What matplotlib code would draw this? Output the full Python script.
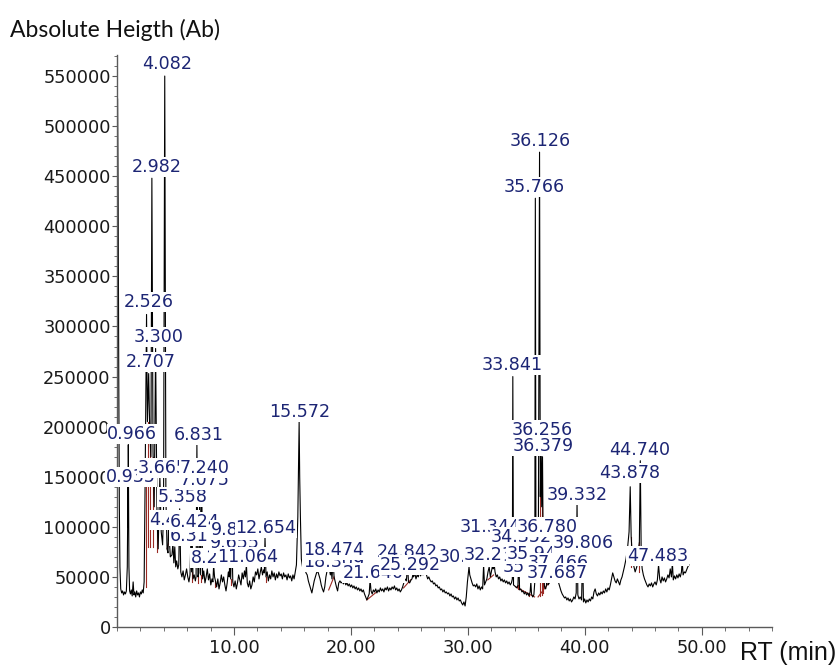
import numpy as np
import matplotlib
matplotlib.use("Agg")
import matplotlib.pyplot as plt
from matplotlib.ticker import FixedLocator, FuncFormatter

# ---------------------------------------------------------------------------
# Total ion chromatogram: baseline samples (retention time in min,
# abundance in thousands of counts)
# ---------------------------------------------------------------------------
base_rt = [
    0.05, 0.10, 0.15, 0.20, 0.25, 0.32, 0.40, 0.48, 0.56, 0.64, 0.72, 0.80, 0.88, 0.95,
    1.02, 1.08, 1.15, 1.22, 1.30, 1.38, 1.45, 1.52, 1.60, 1.68, 1.76, 1.84, 1.92, 2.00,
    2.08, 2.16, 2.24, 2.32, 2.40, 2.60, 2.80, 2.90, 3.08, 3.18, 3.42, 3.52, 3.78, 3.90,
    3.98, 4.18, 4.28, 4.36, 4.48, 4.56, 4.70, 4.78, 4.86, 4.94, 5.02, 5.10, 5.20, 5.28,
    5.45, 5.55, 5.65, 5.75, 5.85, 5.95, 6.05, 6.15, 6.24, 6.38, 6.50, 6.60, 6.70, 6.76,
    6.92, 7.00, 7.15, 7.32, 7.42, 7.52, 7.62, 7.72, 7.82, 7.92, 8.02, 8.12, 8.20, 8.34,
    8.42, 8.52, 8.62, 8.72, 8.82, 8.92, 9.02, 9.12, 9.22, 9.32, 9.42, 9.52, 9.60, 9.72,
    9.90, 10.00, 10.10, 10.20, 10.30, 10.40, 10.50, 10.60, 10.70, 10.80, 10.90, 10.98,
    11.14, 11.24, 11.34, 11.44, 11.54, 11.64, 11.74, 11.84, 11.94, 12.04, 12.14, 12.24,
    12.34, 12.44, 12.54, 12.60, 12.74, 12.84, 12.94, 13.04, 13.14, 13.24, 13.34, 13.44,
    13.54, 13.64, 13.74, 13.84, 13.94, 14.04, 14.14, 14.24, 14.34, 14.44, 14.54, 14.64,
    14.74, 14.84, 14.94, 15.04, 15.14, 15.24, 15.34, 15.46, 15.52, 15.62, 15.68, 15.76,
    15.86, 15.96, 16.06, 16.16, 16.26, 16.36, 16.46, 16.56, 16.66, 16.76, 16.86, 16.96,
    17.06, 17.16, 17.26, 17.36, 17.46, 17.56, 17.66, 17.76, 17.86, 17.96, 18.06, 18.16,
    18.24, 18.38, 18.56, 18.66, 18.76, 18.86, 18.96, 19.06, 19.16, 19.26, 19.36, 19.46,
    19.56, 19.66, 19.76, 19.86, 19.96, 20.06, 20.16, 20.26, 20.36, 20.46, 20.56, 20.66,
    20.76, 20.86, 20.96, 21.06, 21.16, 21.26, 21.36, 21.46, 21.56, 21.72, 21.82, 21.92,
    22.02, 22.12, 22.22, 22.32, 22.42, 22.52, 22.62, 22.72, 22.82, 22.92, 23.02, 23.12,
    23.22, 23.32, 23.42, 23.52, 23.62, 23.72, 23.82, 23.92, 24.02, 24.12, 24.22, 24.32,
    24.42, 24.52, 24.62, 24.74, 24.92, 25.02, 25.14, 25.22, 25.36, 25.46, 25.56, 25.66,
    25.76, 25.86, 25.96, 26.06, 26.16, 26.26, 26.36, 26.46, 26.56, 26.66, 26.76, 26.86,
    26.96, 27.06, 27.16, 27.26, 27.36, 27.46, 27.56, 27.66, 27.76, 27.86, 27.96, 28.06,
    28.16, 28.26, 28.36, 28.46, 28.56, 28.66, 28.76, 28.86, 28.96, 29.06, 29.16, 29.26,
    29.36, 29.46, 29.56, 29.66, 29.76, 29.86, 29.96, 30.16, 30.26, 30.36, 30.46, 30.56,
    30.66, 30.76, 30.86, 30.96, 31.06, 31.16, 31.26, 31.42, 31.52, 31.62, 31.72, 31.82,
    31.92, 32.02, 32.12, 32.16, 32.32, 32.42, 32.52, 32.62, 32.72, 32.82, 32.92, 33.02,
    33.12, 33.22, 33.32, 33.42, 33.52, 33.62, 33.72, 33.80, 33.90, 34.00, 34.10, 34.20,
    34.28, 34.42, 34.52, 34.62, 34.72, 34.82, 34.92, 35.02, 35.12, 35.22, 35.32, 35.44,
    35.54, 35.64, 35.72, 35.82, 35.88, 36.02, 36.19, 36.31, 36.45, 36.55, 36.65, 36.72,
    36.86, 36.96, 37.06, 37.16, 37.26, 37.36, 37.56, 37.62, 37.76, 37.86, 37.96, 38.06,
    38.16, 38.26, 38.36, 38.46, 38.56, 38.66, 38.76, 38.86, 38.96, 39.06, 39.16, 39.26,
    39.40, 39.50, 39.60, 39.72, 39.88, 39.98, 40.08, 40.18, 40.28, 40.38, 40.48, 40.58,
    40.68, 40.78, 40.88, 40.98, 41.08, 41.18, 41.28, 41.38, 41.48, 41.58, 41.68, 41.78,
    41.88, 41.98, 42.08, 42.18, 42.28, 42.38, 42.48, 42.58, 42.68, 42.78, 42.88, 42.98,
    43.08, 43.18, 43.28, 43.38, 43.52, 43.66, 43.78, 43.96, 44.06, 44.16, 44.30, 44.44,
    44.56, 44.66, 44.82, 44.90, 45.00, 45.10, 45.20, 45.30, 45.40, 45.50, 45.60, 45.70,
    45.80, 45.90, 46.00, 46.10, 46.20, 46.30, 46.40, 46.50, 46.60, 46.70, 46.80, 46.90,
    47.00, 47.10, 47.20, 47.30, 47.40, 47.56, 47.66, 47.76, 47.86, 47.96, 48.06, 48.16,
    48.26, 48.32, 48.40, 48.50, 48.60, 48.70, 48.80, 48.90,
]
base_k = [
    527, 420, 250, 120, 60, 38, 34, 36, 32, 35, 33, 36, 60, 100,
    60, 36, 33, 37, 31, 45, 32, 35, 30, 36, 32, 34, 30, 35,
    33, 37, 34, 45, 140, 205, 195, 170, 175, 120, 110, 78, 95, 82,
    120, 130, 78, 74, 86, 70, 72, 84, 64, 80, 60, 66, 58, 62,
    55, 50, 56, 47, 52, 58, 50, 45, 52, 55, 48, 52, 46, 50,
    50, 54, 52, 48, 56, 44, 50, 58, 47, 53, 42, 48, 45, 50,
    46, 40, 48, 38, 44, 52, 45, 50, 42, 36, 44, 55, 50, 48,
    45, 40, 46, 38, 44, 52, 47, 42, 54, 48, 56, 50,
    44, 40, 46, 38, 42, 50, 45, 55, 52, 58, 48, 54,
    60, 52, 57, 54, 50, 55, 46, 52, 48, 56, 50, 54,
    47, 53, 49, 55, 51, 53, 48, 54, 50, 52, 47, 53,
    49, 51, 46, 52, 48, 55, 62, 110, 160, 150, 110, 68,
    60, 62, 58, 54, 52, 46, 42, 38, 34, 40, 46, 50,
    54, 56, 52, 48, 42, 38, 35, 40, 50, 56, 60, 58,
    52, 48, 50, 45, 40, 36, 44, 46, 44, 45, 43, 46,
    42, 44, 41, 43, 40, 42, 39, 41, 38, 40, 37, 39,
    36, 38, 35, 37, 33, 30, 27, 30, 33, 36, 33, 37,
    35, 38, 34, 37, 35, 39, 36, 38, 35, 39, 37, 40,
    36, 39, 37, 40, 38, 41, 37, 39, 36, 38, 35, 37,
    40, 44, 48, 46, 45, 44, 47, 48, 50, 54, 48, 52,
    50, 55, 51, 56, 52, 54, 58, 52, 48, 50, 47, 45,
    46, 43, 44, 41, 42, 39, 40, 37, 38, 35, 37, 34,
    35, 33, 34, 31, 33, 30, 31, 28, 30, 27, 29, 26,
    27, 24, 22, 25, 21, 30, 45, 52, 48, 44, 41, 42,
    40, 43, 38, 41, 37, 40, 38, 42, 45, 48, 55, 60,
    50, 56, 62, 58, 55, 50, 52, 48, 50, 46, 48, 45,
    47, 44, 46, 43, 45, 42, 44, 48, 42, 41, 40, 39,
    42, 37, 38, 35, 36, 33, 35, 32, 34, 31, 35, 33,
    30, 32, 45, 70, 58, 70, 130, 120, 60, 40, 38, 42,
    42, 44, 46, 45, 47, 46, 48, 46, 44, 40, 36, 33,
    31, 29, 30, 27, 29, 26, 28, 25, 27, 30, 28, 34,
    32, 28, 30, 27, 25, 28, 24, 27, 25, 28, 26, 30,
    28, 35, 38, 33, 31, 34, 32, 35, 33, 36, 34, 38,
    35, 39, 37, 42, 48, 54, 50, 46, 44, 48, 45, 42,
    47, 50, 55, 60, 68, 80, 95, 90, 70, 62, 55, 60,
    75, 85, 70, 58, 52, 48, 45, 42, 40, 43, 41, 44,
    40, 43, 45, 42, 47, 62, 48, 44, 50, 46, 49, 45,
    48, 52, 49, 58, 50, 47, 51, 48, 52, 49, 53, 50,
    55, 66, 52, 55, 54, 57, 60, 62,
]

# Integrated peaks: retention time (min) and apex height (thousands of counts)
peak_rt = [
    0.935, 0.966, 2.526, 2.707, 2.982, 3.300, 3.665, 4.082, 4.404, 5.358,
    6.312, 6.424, 6.831, 7.075, 7.240, 8.262, 9.655, 9.812, 11.064, 12.654,
    15.572, 18.309, 18.474, 21.640, 24.842, 25.292, 30.096, 31.344, 32.236, 33.841,
    34.352, 35.382, 35.766, 35.946, 36.126, 36.256, 36.379, 36.780, 37.466, 37.687,
    39.332, 39.806, 43.878, 44.740, 47.483,
]
peak_k = [
    140, 182, 312, 253, 448, 278, 150, 550, 97, 118,
    84, 92, 182, 140, 150, 62, 78, 96, 62, 90,
    205, 58, 66, 47, 62, 52, 60, 62, 64, 250,
    70, 45, 428, 64, 474, 186, 170, 90, 52, 50,
    126, 76, 140, 166, 64,
]

# Annotation anchor (centre of each retention-time tag), same order as the peaks
tag_x = [
    1.21, 1.30, 2.75, 2.92, 3.43, 3.52, 3.94, 4.28, 4.90, 5.65,
    6.67, 6.67, 7.01, 7.53, 7.53, 8.46, 10.08, 10.17, 11.19, 12.73,
    15.63, 18.53, 18.53, 21.95, 24.85, 25.10, 30.14, 31.93, 32.27, 33.81,
    34.57, 35.60, 35.69, 35.94, 36.20, 36.32, 36.45, 36.79, 37.73, 37.65,
    39.35, 39.86, 43.87, 44.73, 46.20,
]
tag_k = [
    149.7, 192.6, 324.4, 264.5, 459.1, 289.4, 158.7, 562.0, 106.8, 129.7,
    90.8, 104.8, 191.6, 146.7, 158.7, 68.9, 83.8, 96.8, 69.9, 98.8,
    214.6, 64.9, 76.8, 53.9, 74.9, 61.9, 69.9, 99.8, 71.9, 261.5,
    89.8, 59.9, 439.1, 72.9, 485.0, 196.6, 180.6, 99.8, 63.9, 53.9,
    131.7, 83.8, 153.7, 176.6, 71.0,
]

# Integration baselines / drop lines (t1, k1, t2, k2)
integ_segments = [
    (2.45, 150, 2.45, 40), (2.62, 205, 2.62, 80), (2.85, 190, 2.85, 80),
    (3.12, 170, 3.12, 80), (3.42, 110, 3.42, 75), (4.28, 78, 4.48, 86),
    (6.38, 55, 6.38, 45), (6.92, 50, 6.92, 44), (7.15, 52, 7.15, 45),
    (8.42, 46, 8.42, 40), (9.72, 48, 9.72, 42), (12.74, 50, 12.74, 45),
    (18.10, 37, 18.55, 50), (21.36, 27, 22.20, 35), (24.50, 39, 25.10, 47),
    (31.70, 47, 32.20, 52), (34.10, 40, 35.70, 30), (36.00, 30, 37.10, 47),
    (34.28, 42, 34.28, 38), (34.72, 36, 34.72, 36), (35.22, 31, 35.22, 33),
    (36.19, 130, 36.19, 31), (36.31, 120, 36.31, 32), (36.45, 60, 36.45, 34),
    (43.96, 90, 43.96, 60), (44.66, 85, 44.66, 55),
]

y_ticks = list(range(0, 550001, 50000))
x_major = [10, 20, 30, 40, 50]

# ---------------------------------------------------------------------------
navy = "#1c2574"
red = "#9b2a24"

fig = plt.figure(figsize=(8.37, 6.66), dpi=100)
ax = fig.add_axes([117 / 837, 39 / 666, 655 / 837, 572 / 666])

# merge baseline samples and peak apexes into one trace
rt = np.array(base_rt + peak_rt)
val = np.array(base_k + peak_k, dtype=float) * 1000.0
order = np.argsort(rt)
rt, val = rt[order], val[order]

for t1, k1, t2, k2 in integ_segments:
    ax.plot([t1, t2], [k1 * 1000, k2 * 1000], color=red, lw=0.8, zorder=2)
ax.plot(rt, val, color="black", lw=0.8, zorder=2.5)

for i, (rtp, tx, ty) in enumerate(zip(peak_rt, tag_x, tag_k)):
    ax.text(tx, ty * 1000, f"{rtp:.3f}", ha="center", va="center",
            fontsize=12.6, color=navy, family="DejaVu Sans",
            bbox=dict(boxstyle="square,pad=0.04", fc="white", ec="none"),
            zorder=4 + i * 0.01, clip_on=False)

ax.set_xlim(0, 56)
ax.set_ylim(0, 571000)

for side in ("top", "right"):
    ax.spines[side].set_visible(False)
for side in ("left", "bottom"):
    ax.spines[side].set_color("#5a5a5a")
    ax.spines[side].set_linewidth(1.0)

ax.yaxis.set_major_locator(FixedLocator(y_ticks))
ax.yaxis.set_minor_locator(FixedLocator(list(range(0, 570001, 10000))))
ax.yaxis.set_major_formatter(FuncFormatter(lambda v, p: f"{int(round(v))}"))
ax.xaxis.set_major_locator(FixedLocator(x_major))
ax.xaxis.set_minor_locator(FixedLocator(list(range(0, 57, 2))))
ax.xaxis.set_major_formatter(FuncFormatter(lambda v, p: f"{v:.2f}"))

ax.tick_params(axis="y", which="major", length=3.5, width=0.8, color="#5a5a5a",
               pad=1, labelsize=12.8, labelcolor="#1a1a1a")
ax.tick_params(axis="y", which="minor", length=2, width=0.6, color="#5a5a5a")
ax.tick_params(axis="x", which="major", length=5.5, width=0.8, color="#5a5a5a",
               pad=3, labelsize=12.8, labelcolor="#1a1a1a")
ax.tick_params(axis="x", which="minor", length=3, width=0.6, color="#5a5a5a")
for lab in ax.get_xticklabels() + ax.get_yticklabels():
    lab.set_family("DejaVu Sans")

fig.text(10 / 837, 1 - 37 / 666, "Absolute Heigth (Ab)", family="Lato",
         fontsize=16.5, color="#111111", ha="left", va="baseline")
fig.text(836 / 837, 1 - 660 / 666, "RT (min)", family="Liberation Sans",
         fontsize=18, color="#111111", ha="right", va="baseline")

fig.savefig("out.png", dpi=100)
